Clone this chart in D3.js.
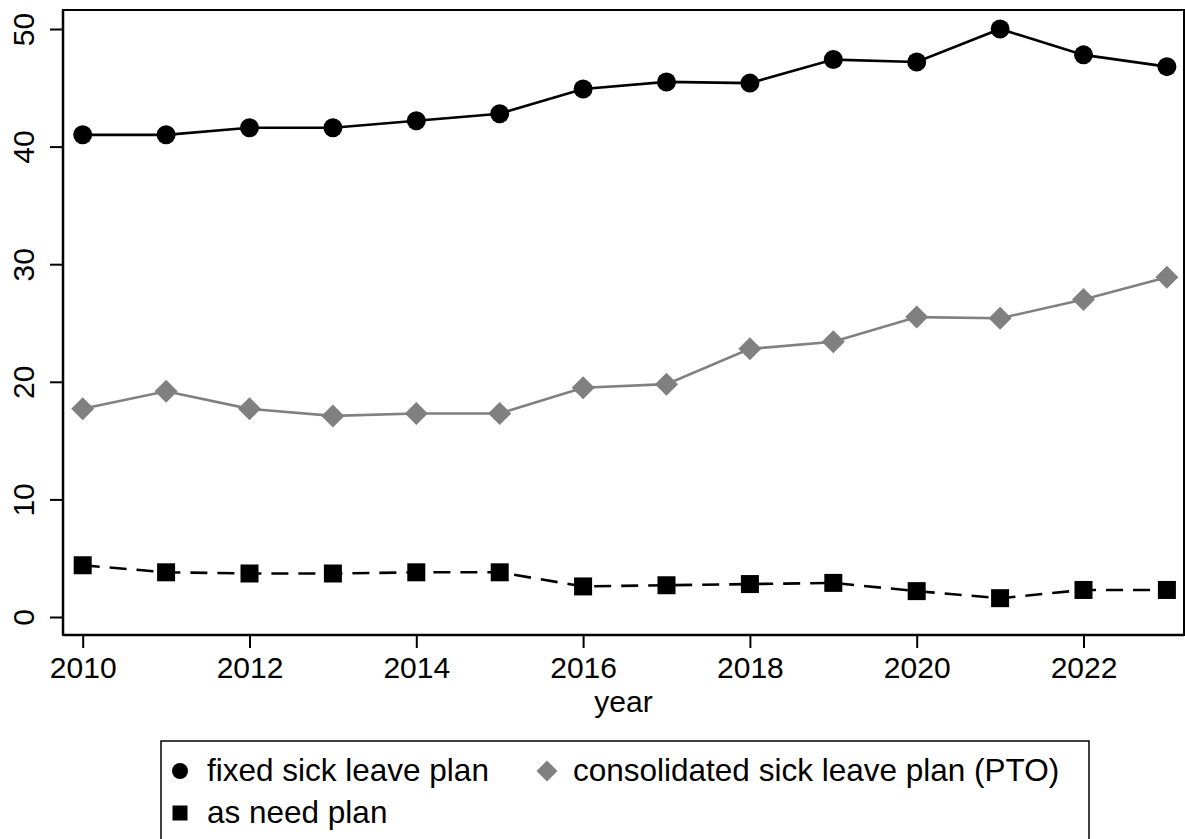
<!DOCTYPE html>
<html><head><meta charset="utf-8">
<script src="https://cdn.jsdelivr.net/npm/d3@7"></script>
<style>body{margin:0;background:#fff}svg{display:block}text{font-family:"Liberation Sans",Arial,sans-serif}</style>
</head><body><svg id="c" width="1185" height="839"></svg>
<script>
const years = [2010,2011,2012,2013,2014,2015,2016,2017,2018,2019,2020,2021,2022,2023];
const fixedPlan = [41.0,41.0,41.6,41.6,42.2,42.8,44.9,45.5,45.4,47.4,47.2,50.0,47.8,46.8];
const consolidatedPlan = [17.7,19.2,17.7,17.1,17.3,17.3,19.5,19.8,22.8,23.4,25.5,25.4,27.0,28.9];
const asNeedPlan = [4.4,3.8,3.7,3.7,3.8,3.8,2.6,2.7,2.8,2.9,2.2,1.6,2.3,2.3];
const xTicks = [2010,2012,2014,2016,2018,2020,2022];
const yTicks = [0,10,20,30,40,50];
const legendLabels = ["fixed sick leave plan","consolidated sick leave plan (PTO)","as need plan"];

const svg = d3.select("#c");
const L=63, R=1184, T=10, B=635;
const x = d3.scaleLinear().domain([2010,2022]).range([82.7,1083.5]);
const y = d3.scaleLinear().domain([0,50]).range([617,29]);

// frame
svg.append("rect").attr("x",L).attr("y",T).attr("width",R-L).attr("height",B-T)
  .attr("fill","none").attr("stroke","#000").attr("stroke-width",2);

// axes
const xAxis = svg.append("g").attr("transform",`translate(0,${B})`)
  .call(d3.axisBottom(x).tickValues(xTicks).tickFormat(d3.format("d")).tickSize(13).tickPadding(9));
xAxis.select(".domain").attr("d",`M${L},0H${R}`).attr("stroke-width",2.5);
xAxis.selectAll(".tick line").attr("stroke-width",2);
xAxis.selectAll(".tick text").attr("font-size",30).attr("fill","#000").attr("font-family","Liberation Sans, Arial, sans-serif");

const yAxis = svg.append("g").attr("transform",`translate(${L},0)`)
  .call(d3.axisLeft(y).tickValues(yTicks).tickSize(13).tickFormat(d3.format("d")));
yAxis.select(".domain").attr("d",`M0,${T}V${B}`).attr("stroke-width",2.5);
yAxis.selectAll(".tick line").attr("stroke-width",2);
yAxis.selectAll(".tick text").attr("font-size",30).attr("fill","#000")
  .attr("font-family","Liberation Sans, Arial, sans-serif")
  .attr("x",0).attr("dy",0).attr("text-anchor","middle")
  .attr("transform","translate(-29,0) rotate(-90)");

svg.append("text").attr("x",(L+R)/2).attr("y",712).attr("text-anchor","middle")
  .attr("font-size",30).text("year");

const clip = svg.append("g");
function series(vals, color, dash){
  const line = d3.line().x((d,i)=>x(years[i])).y(d=>y(d));
  clip.append("path").attr("d",line(vals)).attr("fill","none").attr("stroke",color)
    .attr("stroke-width",2.6).attr("stroke-dasharray",dash||null);
}
series(consolidatedPlan,"#808080");
series(fixedPlan,"#000");
series(asNeedPlan,"#000","17,10");

const diamond = s=>`M0,${-s}L${s},0L0,${s}L${-s},0Z`;
clip.selectAll(".dm").data(consolidatedPlan).join("path")
  .attr("transform",(d,i)=>`translate(${x(years[i])},${y(d)})`).attr("d",diamond(11.5)).attr("fill","#808080");
clip.selectAll(".ci").data(fixedPlan).join("circle")
  .attr("cx",(d,i)=>x(years[i])).attr("cy",d=>y(d)).attr("r",9.5).attr("fill","#000");
clip.selectAll(".sq").data(asNeedPlan).join("rect")
  .attr("x",(d,i)=>x(years[i])-9).attr("y",d=>y(d)-9).attr("width",18).attr("height",18).attr("fill","#000");

// legend
const lg = svg.append("g");
lg.append("rect").attr("x",161).attr("y",741).attr("width",928).attr("height",130)
  .attr("fill","#fff").attr("stroke","#000").attr("stroke-width",1.5);
lg.append("circle").attr("cx",180).attr("cy",771).attr("r",8).attr("fill","#000");
lg.append("path").attr("transform","translate(547,771)").attr("d",diamond(10.5)).attr("fill","#808080");
lg.append("rect").attr("x",172.5).attr("y",805.5).attr("width",15).attr("height",15).attr("fill","#000");
const lt = [[207,781],[573,781],[207,823]];
legendLabels.forEach((t,i)=>lg.append("text").attr("x",lt[i][0]).attr("y",lt[i][1]).attr("font-size",31.5).text(t));
</script></body></html>
